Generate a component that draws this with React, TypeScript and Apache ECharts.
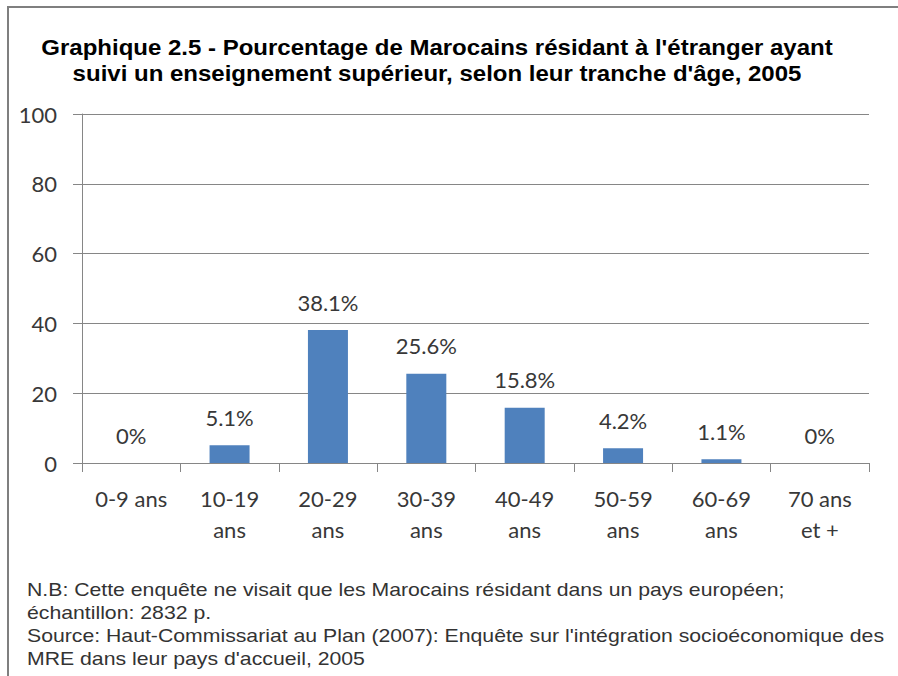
import React, { useEffect, useRef } from "react";
import * as echarts from "echarts";

const categories = ["0-9 ans", "10-19\nans", "20-29\nans", "30-39\nans", "40-49\nans", "50-59\nans", "60-69\nans", "70 ans\net +"];
const values = [0, 5.1, 38.1, 25.6, 15.8, 4.2, 1.1, 0];
const valueLabels = ["0%", "5.1%", "38.1%", "25.6%", "15.8%", "4.2%", "1.1%", "0%"];
const titleLines = [
  "Graphique 2.5 - Pourcentage de Marocains résidant à l'étranger ayant",
  "suivi un enseignement supérieur, selon leur tranche d'âge, 2005",
];
const noteLines = [
  "N.B: Cette enquête ne visait que les Marocains résidant dans un pays européen;",
  "échantillon: 2832 p.",
  "Source: Haut-Commissariat au Plan (2007): Enquête sur l'intégration socioéconomique des",
  "MRE dans leur pays d'accueil, 2005",
];

export default function App() {
  const ref = useRef<HTMLDivElement>(null);
  useEffect(() => {
    if (!ref.current) return;
    const chart = echarts.init(ref.current, null, { renderer: "svg" });
    const labelFont = "Lato, 'Noto Sans', sans-serif";
    chart.setOption({
      animation: false,
      backgroundColor: "#ffffff",
      grid: { left: 82, right: 29, top: 114, bottom: 213, containLabel: false },
      xAxis: {
        type: "category",
        data: categories,
        axisLine: { lineStyle: { color: "#868686", width: 1 } },
        axisTick: { show: true, length: 9, alignWithLabel: false, lineStyle: { color: "#868686" } },
        axisLabel: {
          interval: 0,
          margin: 20,
          fontFamily: labelFont,
          fontSize: 22,
          lineHeight: 31,
          color: "#383838",
        },
      },
      yAxis: {
        type: "value",
        min: 0,
        max: 100,
        interval: 20,
        axisLine: { show: true, lineStyle: { color: "#868686", width: 1 } },
        axisTick: { show: true, length: 9, lineStyle: { color: "#868686" } },
        splitLine: { lineStyle: { color: "#868686", width: 1 } },
        axisLabel: {
          margin: 25,
          fontFamily: labelFont,
          fontSize: 22,
          color: "#383838",
        },
      },
      series: [
        {
          type: "bar",
          data: values,
          barWidth: 40,
          itemStyle: { color: "#4F81BD" },
          label: {
            show: true,
            position: "top",
            distance: 17,
            fontFamily: labelFont,
            fontSize: 22,
            color: "#383838",
            formatter: (p: any) => valueLabels[p.dataIndex],
          },
        },
      ],
      graphic: [
        { type: "line", shape: { x1: 8, y1: 7, x2: 898, y2: 7 }, style: { stroke: "#7f7f7f", lineWidth: 2 } },
        { type: "line", shape: { x1: 8, y1: 6, x2: 8, y2: 676 }, style: { stroke: "#7f7f7f", lineWidth: 2 } },
        ...titleLines.map((t, i) => ({
          type: "text",
          x: 437,
          y: 47 + i * 26,
          scaleX: 1.092,
          style: {
            text: t,
            fontFamily: "'Liberation Sans', Arial, sans-serif",
            fontWeight: "bold",
            fontSize: 22,
            fill: "#000000",
            textAlign: "center",
            textVerticalAlign: "middle",
          },
        })),
        ...noteLines.map((t, i) => ({
          type: "text",
          x: 27,
          y: 589.5 + i * 23,
          scaleX: 1.18,
          style: {
            text: t,
            fontFamily: "'Liberation Sans', Arial, sans-serif",
            fontSize: 18,
            fill: "#333333",
            textAlign: "left",
            textVerticalAlign: "middle",
          },
        })),
      ],
    });
    return () => chart.dispose();
  }, []);
  return <div ref={ref} style={{ width: 898, height: 676, position: "absolute", left: 0, top: 0 }} />;
}
